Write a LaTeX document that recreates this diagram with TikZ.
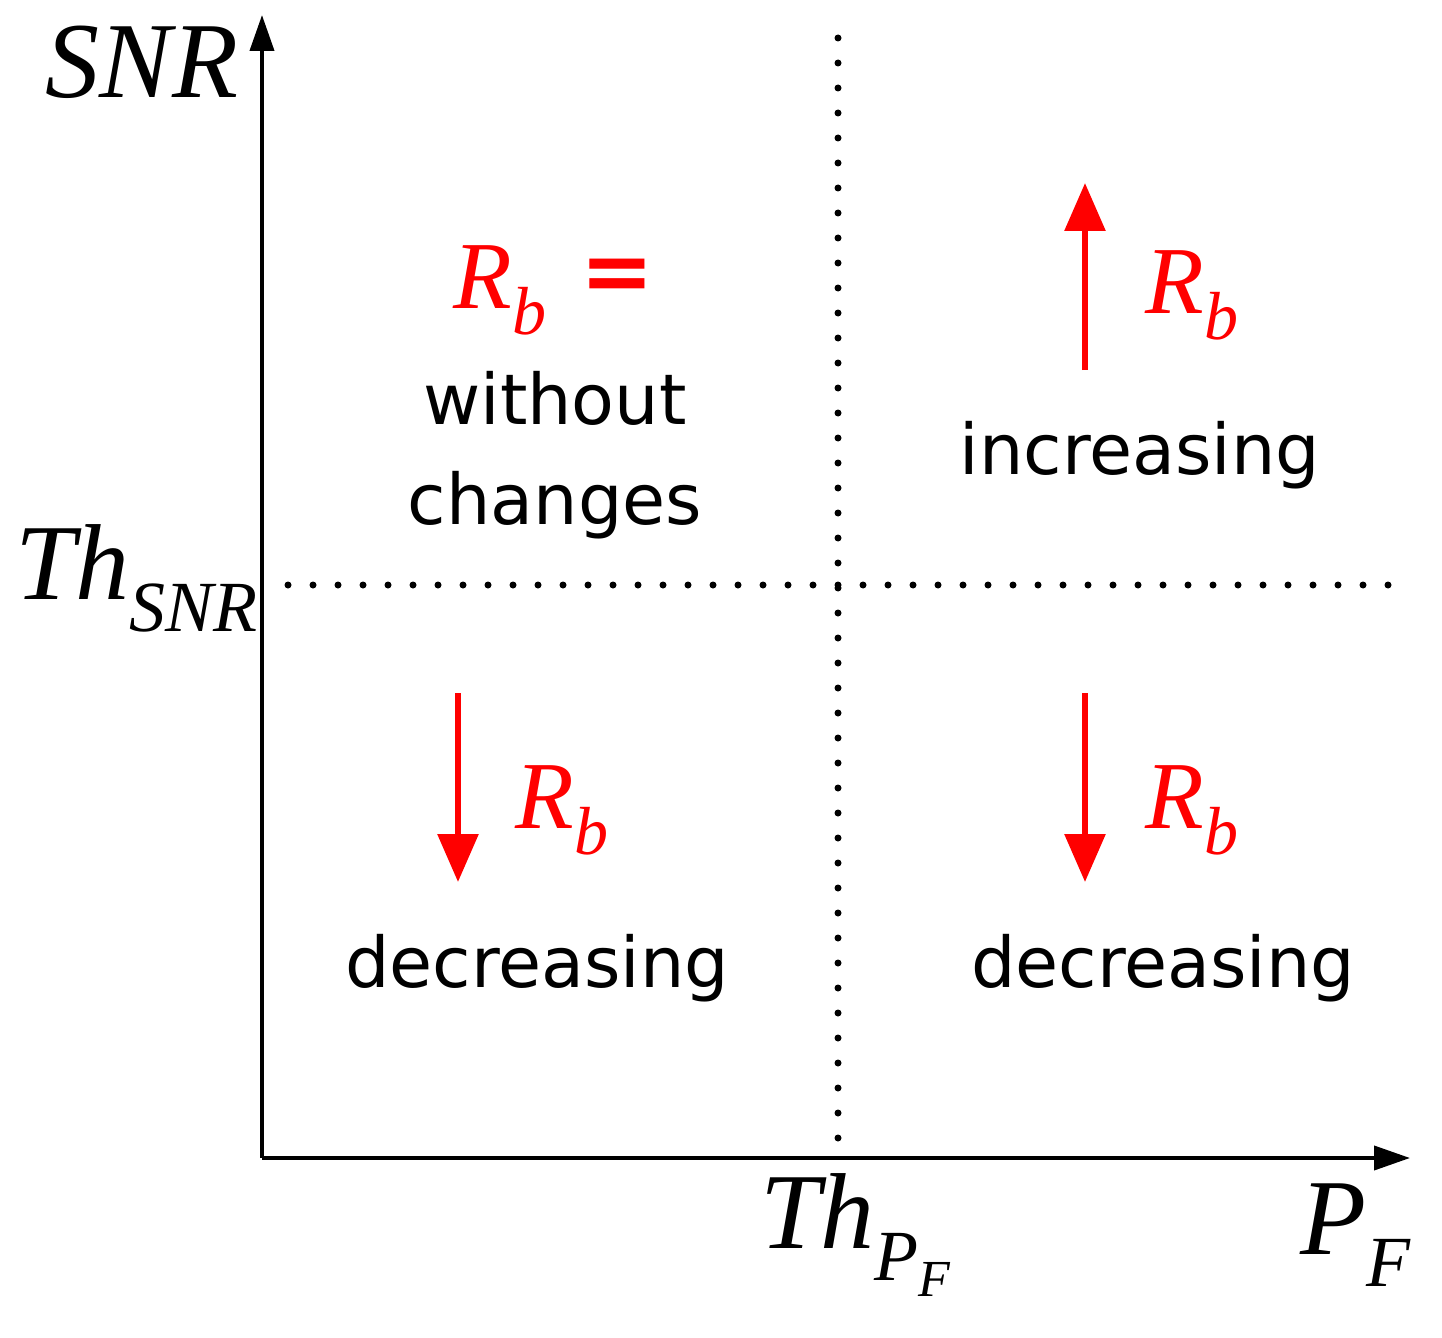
\documentclass[tikz,border=0pt]{standalone}
\usepackage{fontspec}
\setmainfont{Liberation Serif}
\setsansfont{DejaVu Sans}
\usetikzlibrary{arrows.meta}
\newcommand{\sbx}[2]{\raisebox{-#1}{#2}}
\begin{document}
\begin{tikzpicture}[x=0.5pt,y=-0.5pt,
  axis/.style={line width=2pt,-{Triangle[length=18pt,width=12pt]}},
  dots/.style={line width=3.5pt,dash pattern=on 0pt off 12.5pt,line cap=round},
  redarr/.style={red,line width=3pt,-{Triangle[length=24pt,width=20pt]}},
  lab/.style={font=\fontsize{35}{50}\selectfont\sffamily,align=center,inner sep=0pt},
  mathlab/.style={font=\fontsize{54}{56}\selectfont\itshape,inner sep=0pt},
  rb/.style={font=\fontsize{48}{50}\selectfont\itshape,text=red,inner sep=0pt}]
\useasboundingbox (0,0) rectangle (1442,1338);
\coordinate (o) at (262,1158);
\coordinate (ytop) at (262,15);
\coordinate (xend) at (1410,1158);
\draw[axis] (o) -- (ytop);
\draw[axis] (o) -- (xend);
\coordinate (v1) at (838,38); \coordinate (v2) at (838,1160);
\coordinate (h1) at (288,585); \coordinate (h2) at (1395,585);
\draw[dots] (v1) -- (v2);
\draw[dots] (h1) -- (h2);
\node[mathlab] (snr) at (142,62) {SNR};
\node[mathlab,anchor=east] (thsnr) at (258,578) {Th\sbx{16pt}{\fontsize{36}{38}\selectfont SNR}};
\node[mathlab] (thpf) at (855,1235) {Th\sbx{16pt}{\fontsize{36}{38}\selectfont P\sbx{8pt}{\fontsize{26}{28}\selectfont F}}};
\node[mathlab] (pf) at (1355,1235) {P\sbx{16pt}{\fontsize{36}{38}\selectfont F}};
% top-left
\node[rb] (rb1) at (500,290) {R\sbx{13pt}{\fontsize{34}{36}\selectfont b}};
\node[text=red,font=\fontsize{44}{44}\selectfont\bfseries\sffamily,inner sep=0pt] (eq) at (617,280) {=};
\node[lab] (t1) at (555,455) {without\\changes};
% top-right
\coordinate (a1s) at (1085,370); \coordinate (a1e) at (1085,183);
\draw[redarr] (a1s) -- (a1e);
\node[rb] (rb2) at (1192,295) {R\sbx{13pt}{\fontsize{34}{36}\selectfont b}};
\node[lab] (t2) at (1140,455) {increasing};
% bottom-left
\coordinate (a2s) at (458,693); \coordinate (a2e) at (458,882);
\draw[redarr] (a2s) -- (a2e);
\node[rb] (rb3) at (562,810) {R\sbx{13pt}{\fontsize{34}{36}\selectfont b}};
\node[lab] (t3) at (537,968) {decreasing};
% bottom-right
\coordinate (a3s) at (1085,693); \coordinate (a3e) at (1085,882);
\draw[redarr] (a3s) -- (a3e);
\node[rb] (rb4) at (1192,810) {R\sbx{13pt}{\fontsize{34}{36}\selectfont b}};
\node[lab] (t4) at (1163,968) {decreasing};
\end{tikzpicture}
\end{document}
